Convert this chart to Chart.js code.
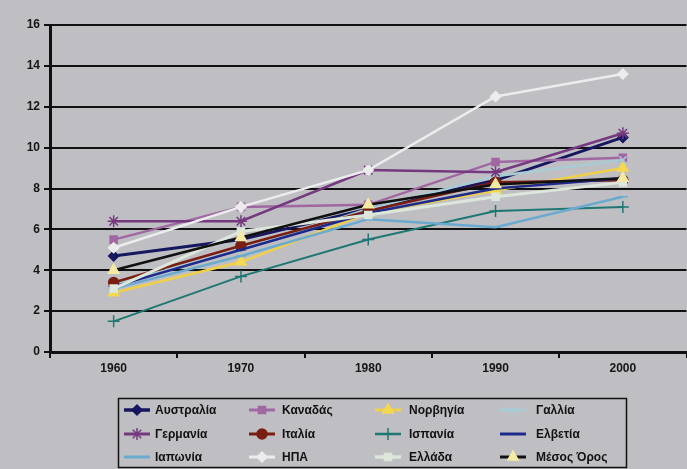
<!DOCTYPE html>
<html>
<head>
<meta charset="utf-8">
<script src="https://cdn.jsdelivr.net/npm/chart.js@4/dist/chart.umd.min.js"></script>
<style>
  html, body { margin: 0; padding: 0; background: #bfbfc3; overflow: hidden; }
  #wrap { position: relative; width: 687px; height: 469px; overflow: hidden; }
  #c { display: block; }
</style>
</head>
<body>
<div id="wrap"><canvas id="c" width="694" height="469"></canvas></div>
<script>
// ---- data ----
const years = ['1960', '1970', '1980', '1990', '2000'];
const seriesNames = ['Αυστραλία', 'Καναδάς', 'Νορβηγία', 'Γαλλία', 'Γερμανία', 'Ιταλία', 'Ισπανία', 'Ελβετία', 'Ιαπωνία', 'ΗΠΑ', 'Ελλάδα', 'Μέσος Όρος'];
const australia = [4.7, 5.5, 7.0, 8.4, 10.5];
const canada    = [5.5, 7.1, 7.2, 9.3, 9.5];
const norway    = [2.9, 4.4, 6.8, 7.9, 9.0];
const france    = [3.3, 5.0, 7.0, 8.6, 9.4];
const germany   = [6.4, 6.4, 8.9, 8.8, 10.7];
const italy     = [3.4, 5.2, 6.9, 8.3, 8.4];
const spain     = [1.5, 3.7, 5.5, 6.9, 7.1];
const swiss     = [3.2, 5.0, 6.8, 8.0, 8.5];
const japan     = [3.1, 4.7, 6.5, 6.1, 7.6];
const usa       = [5.1, 7.1, 8.9, 12.5, 13.6];
const greece    = [3.1, 5.9, 6.7, 7.6, 8.3];
const average   = [4.0, 5.6, 7.2, 8.2, 8.5];
const yTicks = [0, 2, 4, 6, 8, 10, 12, 14, 16];

const styles = [
  { line: '#17175f', fill: '#17175f', point: 'rectRot', r: 5, w: 3 },
  { line: '#a067a3', fill: '#a067a3', point: 'rect', r: 5, w: 2.5 },
  { line: '#f0d04a', fill: '#f3d850', point: 'triangle', r: 6, w: 2.5 },
  { line: '#a8ccd4', fill: '#a8ccd4', point: 'crossRot', r: 5, w: 2.5 },
  { line: '#74397f', fill: '#74397f', point: 'star', r: 6, w: 2.5 },
  { line: '#7a1e12', fill: '#7a1e12', point: 'circle', r: 5, w: 2.5 },
  { line: '#1f7773', fill: '#1f7773', point: 'cross', r: 6, w: 2 },
  { line: '#1d2a8c', fill: '#1d2a8c', point: 'line', r: 5, w: 2.5 },
  { line: '#6aaacf', fill: '#6aaacf', point: 'line', r: 5, w: 2.5 },
  { line: '#ececee', fill: '#ececee', point: 'rectRot', r: 5, w: 2.5 },
  { line: '#dde6da', fill: '#dde6da', point: 'rect', r: 5, w: 3 },
  { line: '#111111', fill: '#f6eaa2', point: 'triangle', r: 6, w: 2.5 }
];
const values = [australia, canada, norway, france, germany, italy, spain, swiss, japan, usa, greece, average];

const datasets = seriesNames.map((n, i) => ({
  label: n,
  data: values[i],
  borderColor: styles[i].line,
  backgroundColor: styles[i].fill,
  borderWidth: styles[i].w,
  pointStyle: styles[i].point,
  pointRadius: styles[i].r,
  pointBackgroundColor: styles[i].fill,
  pointBorderColor: styles[i].fill,
  pointBorderWidth: 1.5,
  tension: 0
}));
datasets.forEach((d, i) => { d.order = seriesNames.length - i; });

const bgPlugin = {
  id: 'bg',
  beforeDraw(chart) {
    const ctx = chart.ctx;
    ctx.save();
    ctx.fillStyle = '#bfbfc3';
    ctx.fillRect(0, 0, chart.width, chart.height);
    ctx.restore();
  }
};

const legendPlugin = {
  id: 'gridLegend',
  afterDraw(chart) {
    const ctx = chart.ctx;
    const colMarker = [137, 262, 388, 513];
    const colText = [155, 282, 409, 536];
    const rowY = [410, 434, 457];
    ctx.save();
    ctx.strokeStyle = '#111';
    ctx.lineWidth = 1.5;
    ctx.strokeRect(118.5, 398.5, 508, 69);
    ctx.font = 'bold 12px "Liberation Sans", Arial, sans-serif';
    ctx.textBaseline = 'middle';
    ctx.textAlign = 'left';
    chart.data.datasets.forEach((ds, i) => {
      const r = Math.floor(i / 4), c = i % 4;
      const x = colMarker[c], y = rowY[r];
      ctx.strokeStyle = ds.borderColor;
      ctx.lineWidth = ds.borderWidth + 0.5;
      ctx.beginPath();
      ctx.moveTo(x - 13, y);
      ctx.lineTo(x + 13, y);
      ctx.stroke();
      ctx.fillStyle = ds.pointBackgroundColor;
      ctx.strokeStyle = ds.pointBorderColor;
      ctx.lineWidth = 1.5;
      Chart.helpers.drawPoint(ctx, { pointStyle: ds.pointStyle, radius: ds.pointRadius, rotation: 0, borderWidth: 1.5 }, x, y);
      ctx.fillStyle = '#111';
      ctx.fillText(ds.label, colText[c], y + 1);
    });
    ctx.restore();
  }
};

new Chart(document.getElementById('c'), {
  type: 'line',
  data: { labels: years, datasets },
  options: {
    responsive: false,
    animation: false,
    events: [],
    layout: { padding: { left: 0, top: 25, right: 0, bottom: 0 } },
    plugins: { legend: { display: false }, tooltip: { enabled: false } },
    scales: {
      x: {
        offset: true,
        grid: { display: true, drawOnChartArea: false, drawTicks: true, tickLength: 6, color: '#111', lineWidth: 2, offset: true },
        border: { display: true, color: '#111', width: 3 },
        ticks: { color: '#151515', font: { family: '"Liberation Sans", Arial, sans-serif', size: 12, weight: 'bold' }, padding: 3 },
        afterFit(scale) { scale.height = 117; }
      },
      y: {
        min: 0, max: 16,
        afterBuildTicks(scale) { scale.ticks = yTicks.map(v => ({ value: v })); },
        grid: { color: '#111', lineWidth: 2, tickLength: 6, drawTicks: true },
        border: { display: true, color: '#111', width: 3 },
        ticks: { color: '#151515', font: { family: '"Liberation Sans", Arial, sans-serif', size: 12, weight: 'bold' }, padding: 4 },
        afterFit(scale) { scale.width = 50; }
      }
    }
  },
  plugins: [bgPlugin, legendPlugin]
});
</script>
</body>
</html>
